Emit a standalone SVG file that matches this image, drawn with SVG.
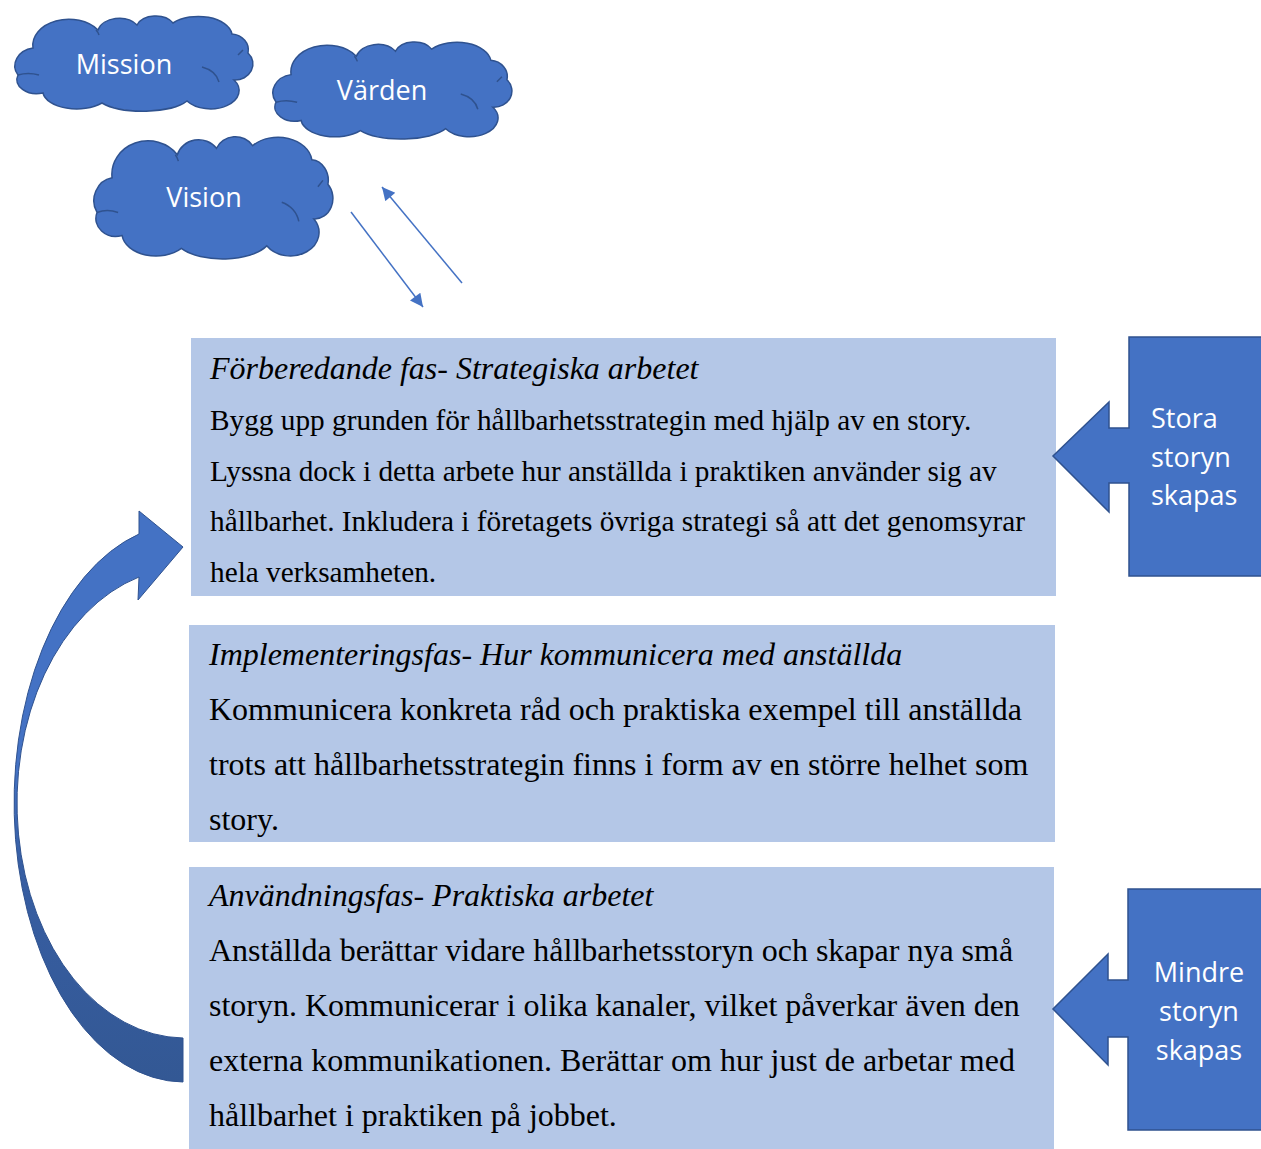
<svg xmlns="http://www.w3.org/2000/svg" xmlns:xlink="http://www.w3.org/1999/xlink" width="1261" height="1149" viewBox="0 0 1261 1149">
<defs>
<style>
.box{fill:#B4C7E7}
.t{font-family:"Liberation Serif","Times New Roman",serif;fill:#000}
.ti{font-style:italic;font-size:32px}
.b1{font-size:29.3px}
.b2{font-size:32px}
.cl{fill:#4472C4;stroke:#2F528F;stroke-width:1.5}
.ct{font-family:"Open Sans","Noto Sans",sans-serif;font-size:27px;fill:#FFFFFF}
.conn{stroke:#4472C4;stroke-width:1.5;fill:none}
</style>
<g id="cloudShape">
<path vector-effect="non-scaling-stroke" d="M6,58 A22 18 0 0 1 21,31 A36 26 0 0 1 86,13 A22 16 0 0 1 125,8 A20 14 0 0 1 161,6 A34 20 0 0 1 220,17 A18 16 0 0 1 236,36 A18 16 0 0 1 222,63 A28 18 0 0 1 175,84 A48 17 0 0 1 90,86 A34 18 0 0 1 31,76 A20 14 0 0 1 6,58 Z"/>
<path vector-effect="non-scaling-stroke" fill="none" d="M190,50 A26 20 0 0 1 207,65 M6,58 Q16,55 27,58 M226,38 L231,33 M84,13 Q86,15 87,18"/>
</g>
<marker id="ah" viewBox="0 0 10 10" refX="10" refY="5" markerWidth="15" markerHeight="13" markerUnits="userSpaceOnUse" orient="auto">
<path d="M0,0 L10,5 L0,10 Z" fill="#4472C4"/>
</marker>
<linearGradient id="cg" gradientUnits="userSpaceOnUse" x1="0" y1="511" x2="0" y2="1082">
<stop offset="0" stop-color="#4472C4"/>
<stop offset="0.45" stop-color="#4472C4"/>
<stop offset="0.62" stop-color="#375EA3"/>
<stop offset="1" stop-color="#335894"/>
</linearGradient>
</defs>
<rect width="1261" height="1149" fill="#FFFFFF"/>

<g id="cloud-mission">
<use xlink:href="#cloudShape" class="cl" transform="translate(12,17)"/>
<text class="ct" x="124" y="74" text-anchor="middle">Mission</text>
</g>
<g id="cloud-varden">
<use xlink:href="#cloudShape" class="cl" transform="translate(270,43) scale(1.004,1.02)"/>
<text class="ct" x="382" y="100" text-anchor="middle">Värden</text>
</g>
<g id="cloud-vision">
<use xlink:href="#cloudShape" class="cl" transform="translate(91,138) scale(1.004,1.284)"/>
<text class="ct" x="204" y="207" text-anchor="middle">Vision</text>
</g>

<g id="connectors">
<line class="conn" x1="351" y1="212" x2="423" y2="307" marker-end="url(#ah)"/>
<line class="conn" x1="462" y1="283" x2="382" y2="187" marker-end="url(#ah)"/>
<path id="curved-arrow" d="M183,1082 A170 279 0 0 1 139,534 L139,511 L183,547 L138,600 L139,577 A168 235 0 0 0 183,1038 Z" fill="url(#cg)" stroke="#2F528F" stroke-width="1"/>
</g>

<g id="box-forberedande">
<rect class="box" x="191" y="338" width="865" height="258"/>
<text class="t ti" x="210" y="379">Förberedande fas- Strategiska arbetet</text>
<text class="t b1" x="210" y="430">Bygg upp grunden för hållbarhetsstrategin med hjälp av en story.</text>
<text class="t b1" x="210" y="481">Lyssna dock i detta arbete hur anställda i praktiken använder sig av</text>
<text class="t b1" x="210" y="531">hållbarhet. Inkludera i företagets övriga strategi så att det genomsyrar</text>
<text class="t b1" x="210" y="582">hela verksamheten.</text>
</g>

<g id="box-implementering">
<rect class="box" x="189" y="625" width="866" height="217"/>
<text class="t ti" x="209" y="665">Implementeringsfas- Hur kommunicera med anställda</text>
<text class="t b2" x="209" y="720">Kommunicera konkreta råd och praktiska exempel till anställda</text>
<text class="t b2" x="209" y="775">trots att hållbarhetsstrategin finns i form av en större helhet som</text>
<text class="t b2" x="209" y="830">story.</text>
</g>

<g id="box-anvandning">
<rect class="box" x="189" y="867" width="865" height="282"/>
<text class="t ti" x="209" y="906">Användningsfas- Praktiska arbetet</text>
<text class="t b2" x="209" y="961">Anställda berättar vidare hållbarhetsstoryn och skapar nya små</text>
<text class="t b2" x="209" y="1016">storyn. Kommunicerar i olika kanaler, vilket påverkar även den</text>
<text class="t b2" x="209" y="1071">externa kommunikationen. Berättar om hur just de arbetar med</text>
<text class="t b2" x="209" y="1126">hållbarhet i praktiken på jobbet.</text>
</g>

<g id="callout-stora">
<path class="cl" d="M1129,337 L1264,337 L1264,576 L1129,576 L1129,483 L1109,483 L1109,512 L1053,456 L1109,402 L1109,428 L1129,428 Z"/>
<text class="ct" x="1151" y="428">Stora</text>
<text class="ct" x="1151" y="467">storyn</text>
<text class="ct" x="1151" y="505">skapas</text>
</g>

<g id="callout-mindre">
<path class="cl" d="M1128,889 L1264,889 L1264,1130 L1128,1130 L1128,1037 L1108,1037 L1108,1065 L1053,1009 L1108,954 L1108,980 L1128,980 Z"/>
<text class="ct" x="1199" y="982" text-anchor="middle">Mindre</text>
<text class="ct" x="1199" y="1021" text-anchor="middle">storyn</text>
<text class="ct" x="1199" y="1060" text-anchor="middle">skapas</text>
</g>
</svg>
